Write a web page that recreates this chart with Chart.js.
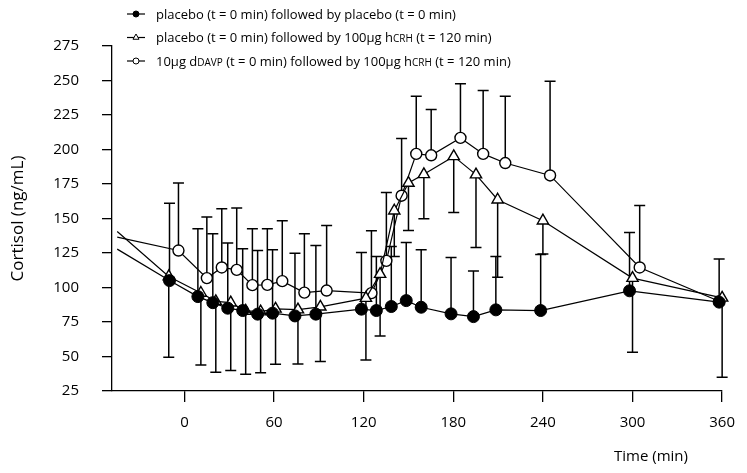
<!DOCTYPE html>
<html>
<head>
<meta charset="utf-8">
<script src="https://cdn.jsdelivr.net/npm/chart.js@4"></script>
<style>
  body { margin: 0; background: #fff; }
  canvas { display: block; }
</style>
</head>
<body>
<canvas id="cortisolChart" width="747" height="473"></canvas>
<script>
// Cortisol time course, three treatment groups (mean with one-sided SEM bars)
const TIME_TICKS = [0, 60, 120, 180, 240, 300, 360];

// placebo followed by placebo (filled circles, bars upward)
const placeboTimes = [-45, -10, 9, 19, 29, 39, 49, 59, 74, 88, 118.5, 128.5, 138.5, 148.5, 158.5, 178.5, 193.5, 208.5, 238.5, 298, 358];
const placeboVals  = [127.8, 105, 93.4, 89, 85, 83.3, 80.7, 81.4, 79.4, 80.7, 84.3, 83.3, 86.2, 90.5, 85.7, 80.9, 78.9, 83.8, 83.3, 97.6, 89.4];
const placeboHigh  = [null, 161, 142.6, 138.9, 132.2, 128, 126.8, 127.3, 124.9, 130.4, 125.4, 122.5, 129.7, 132.6, 127.3, 121.7, 112, 122.5, 124, 139.9, 120.6];

// placebo followed by hCRH (triangles, bars downward)
const crhTimes = [-45, -10.5, 11, 21, 31, 41, 51, 61, 76, 91, 121.5, 131, 140.5, 150, 160.3, 180.3, 195.2, 209.7, 240, 300, 360];
const crhVals  = [140.6, 108, 96, 90, 89, 83, 82.5, 84.5, 84, 86, 92.3, 109.7, 155.6, 175.7, 182, 195, 181.8, 163.6, 148.4, 106.8, 92.5];
const crhLow   = [null, 49.5, 43.9, 38.6, 39.8, 37.1, 38.3, 44.4, 44.6, 46.3, 47.5, 64.9, 122.5, 141.3, 149.8, 154.4, 129, 107.5, 124.2, 53, 35];

// dDAVP followed by hCRH (open circles, bars upward)
const ddavpTimes = [-45, -4, 15, 25, 35, 45.5, 55.5, 65.5, 80.3, 95.2, 125.2, 135.2, 145.4, 155.2, 165.2, 184.8, 200, 214.8, 244.8, 304.8, 358];
const ddavpVals  = [136.5, 126.8, 106.8, 114.5, 112.8, 101.7, 101.9, 104.6, 96.3, 97.8, 95.9, 119.3, 166.5, 196.8, 195.8, 208.4, 196.8, 190.2, 181.2, 114.5, 90];
const ddavpHigh  = [null, 175.7, 151, 157.1, 157.6, 142.6, 142.6, 148.4, 138.9, 145, 141.1, 168.9, 207.9, 238.6, 228.9, 247.6, 242.7, 238.6, 249.5, 159.5, null];

const FONT = "'Open Sans', sans-serif";
const CAP = 5.5;

const toPoints = (times, vals) => times.map((t, i) => ({ x: t, y: vals[i] }));
// first entry only marks where the trace enters the plot, no marker
const radii = (n, r) => Array.from({ length: n }, (_, i) => (i === 0 ? 0 : r));

const errorBars = {
    id: "errorBars",
    beforeDatasetsDraw(chart) {
        const ctx = chart.ctx;
        const yScale = chart.scales.y;
        ctx.save();
        ctx.strokeStyle = "#000";
        ctx.lineWidth = 1.5;
        chart.data.datasets.forEach((ds, di) => {
            const meta = chart.getDatasetMeta(di);
            ds.errorEnds.forEach((end, i) => {
                if (end == null) return;
                const pt = meta.data[i];
                const yEnd = yScale.getPixelForValue(end);
                ctx.beginPath();
                ctx.moveTo(pt.x, pt.y);
                ctx.lineTo(pt.x, yEnd);
                ctx.moveTo(pt.x - CAP, yEnd);
                ctx.lineTo(pt.x + CAP, yEnd);
                ctx.stroke();
            });
        });
        ctx.restore();
    }
};

// legend rows: [marker style, marker fill, text pieces]; pieces in small caps are flagged
const legendRows = [
    ["circle", "#000", [["placebo (t = 0 min) followed by placebo (t = 0 min)", false]]],
    ["triangle", "#fff", [["placebo (t = 0 min) followed by 100\u00b5g h", false], ["CRH", true], [" (t = 120 min)", false]]],
    ["circle", "#fff", [["10\u00b5g d", false], ["DAVP", true], [" (t = 0 min) followed by 100\u00b5g h", false], ["CRH", true], [" (t = 120 min)", false]]]
];

const annotations = {
    id: "annotations",
    afterDraw(chart) {
        const ctx = chart.ctx;
        ctx.save();
        ctx.fillStyle = "#000";
        ctx.strokeStyle = "#000";

        legendRows.forEach(([style, fill, pieces], r) => {
            const y = 14 + r * 23.5;
            ctx.lineWidth = 1.2;
            ctx.beginPath();
            ctx.moveTo(127, y);
            ctx.lineTo(145, y);
            ctx.stroke();
            ctx.fillStyle = fill;
            ctx.lineWidth = 1;
            Chart.helpers.drawPoint(ctx, { pointStyle: style, radius: style === "triangle" ? 3.5 : 3, rotation: 0, borderWidth: 1 }, 136, y);
            ctx.fillStyle = "#000";
            ctx.textBaseline = "alphabetic";
            ctx.textAlign = "left";
            let x = 156;
            pieces.forEach(([text, small]) => {
                ctx.font = (small ? "10px " : "13px ") + FONT;
                ctx.fillText(text, x, y + 4.5);
                x += ctx.measureText(text).width;
            });
        });

        ctx.font = "15px " + FONT;
        ctx.textAlign = "center";
        ctx.textBaseline = "middle";
        ctx.fillText("Time (min)", 651, 457);
        ctx.restore();
    }
};

new Chart(document.getElementById("cortisolChart"), {
    type: "line",
    data: {
        datasets: [
            {
                label: "placebo / placebo",
                data: toPoints(placeboTimes, placeboVals),
                errorEnds: placeboHigh,
                borderColor: "#000",
                borderWidth: 1.2,
                pointStyle: "circle",
                pointRadius: radii(placeboTimes.length, 6),
                pointBackgroundColor: "#000",
                pointBorderColor: "#000",
                pointBorderWidth: 1,
                clip: false
            },
            {
                label: "placebo / hCRH",
                data: toPoints(crhTimes, crhVals),
                errorEnds: crhLow,
                borderColor: "#000",
                borderWidth: 1.2,
                pointStyle: "triangle",
                pointRadius: radii(crhTimes.length, 6.5),
                pointBackgroundColor: "#fff",
                pointBorderColor: "#000",
                pointBorderWidth: 1.4,
                clip: false
            },
            {
                label: "dDAVP / hCRH",
                data: toPoints(ddavpTimes, ddavpVals),
                errorEnds: ddavpHigh,
                borderColor: "#000",
                borderWidth: 1.2,
                pointStyle: "circle",
                pointRadius: radii(ddavpTimes.length, 5.5),
                pointBackgroundColor: "#fff",
                pointBorderColor: "#000",
                pointBorderWidth: 1.4,
                clip: false
            }
        ]
    },
    options: {
        responsive: false,
        animation: false,
        events: [],
        layout: { padding: { top: 46, right: 24, left: 0, bottom: 0 } },
        plugins: {
            legend: { display: false },
            tooltip: { enabled: false }
        },
        elements: { line: { tension: 0 } },
        scales: {
            x: {
                type: "linear",
                min: -48.5,
                max: 360,
                border: { color: "#000", width: 1.3 },
                grid: { drawOnChartArea: false, tickLength: 11, color: "#000", lineWidth: 1.3 },
                ticks: { color: "#000", padding: 12, maxRotation: 0, font: { family: FONT, size: 15 } },
                afterBuildTicks: s => { s.ticks = TIME_TICKS.map(v => ({ value: v })); },
                afterFit: s => { s.height = 82; }
            },
            y: {
                min: 25,
                max: 275,
                border: { color: "#000", width: 1.3 },
                grid: { drawOnChartArea: false, tickLength: 10, color: "#000", lineWidth: 1.3 },
                ticks: { stepSize: 25, color: "#000", padding: 23, font: { family: FONT, size: 15 } },
                title: {
                    display: true,
                    text: "Cortisol (ng/mL)",
                    color: "#000",
                    padding: { top: 8, bottom: 0 },
                    font: { family: FONT, size: 17 }
                },
                afterFit: s => { s.width = 112; }
            }
        }
    },
    plugins: [errorBars, annotations]
});
</script>
</body>
</html>
